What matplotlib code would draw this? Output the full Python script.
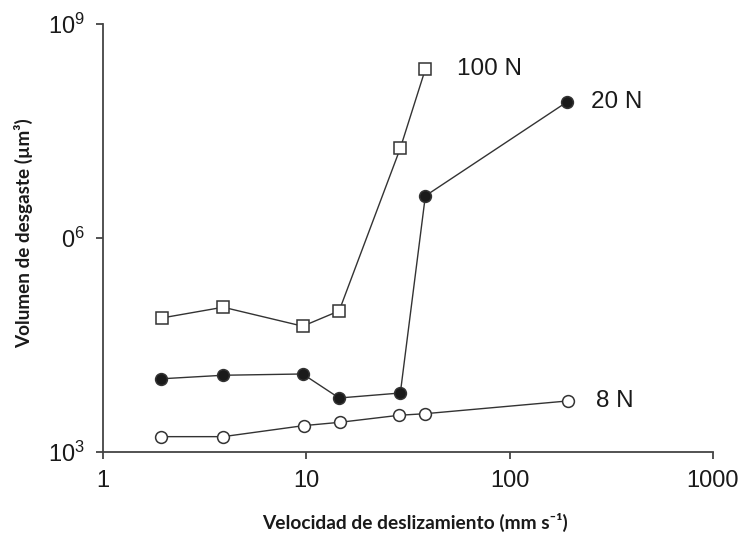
import matplotlib
matplotlib.use("Agg")
import matplotlib.pyplot as plt

plt.rcParams["font.family"] = ["Liberation Sans", "DejaVu Sans"]

# Sliding speed (mm/s) and wear volume (µm³) for each applied load
speed_8n = [1.92, 3.9, 9.7, 14.7, 28.6, 38.4, 193]
wear_8n = [1640, 1640, 2340, 2610, 3270, 3440, 5190]

speed_20n = [1.92, 3.9, 9.6, 14.5, 29, 38.5, 191]
wear_20n = [10600, 11900, 12400, 5710, 6710, 3.89e6, 8.04e7]

speed_100n = [1.95, 3.9, 9.6, 14.5, 29, 38.5]
wear_100n = [75700, 107000, 58000, 95000, 1.82e7, 2.33e8]

load_labels = ["8 N", "20 N", "100 N"]
x_ticks = [1, 10, 100, 1000]
x_tick_labels = ["1", "10", "100", "1000"]
y_ticks = [1e3, 1e6, 1e9]
y_tick_labels = [r"$\mathregular{10^3}$", r"$\mathregular{0^6}$", r"$\mathregular{10^9}$"]

fig = plt.figure(figsize=(7.43, 5.38), dpi=100)
ax = fig.add_axes([0.1386, 0.1599, 0.8210, 0.7955])

line_kw = dict(color="#333333", lw=1.0, markeredgewidth=1.1, markersize=8.5,
               markeredgecolor="#333333", clip_on=False, zorder=3)
ax.plot(speed_8n, wear_8n, marker="o", markerfacecolor="white", **line_kw)
ax.plot(speed_20n, wear_20n, marker="o", markerfacecolor="#1a1a1a", **line_kw)
ax.plot(speed_100n, wear_100n, marker="s", markerfacecolor="white", **line_kw)

series = [(speed_8n, wear_8n, 28), (speed_20n, wear_20n, 24), (speed_100n, wear_100n, 32)]
for (xs, ys, off), lab in zip(series, load_labels):
    ax.annotate(lab, xy=(xs[-1], ys[-1]), xytext=(off, 0), textcoords="offset pixels",
                va="center", ha="left", fontsize=17.5, color="#1a1a1a")

ax.set_xscale("log")
ax.set_yscale("log")
ax.set_xlim(1, 1000)
ax.set_ylim(1e3, 1e9)
ax.set_xticks(x_ticks)
ax.set_xticklabels(x_tick_labels)
ax.set_yticks(y_ticks)
ax.set_yticklabels(y_tick_labels)
ax.minorticks_off()

for side in ("top", "right"):
    ax.spines[side].set_visible(False)
for side in ("left", "bottom"):
    ax.spines[side].set_color("#444444")
    ax.spines[side].set_linewidth(1.3)
ax.tick_params(axis="both", direction="out", length=5, width=1.3, color="#444444",
               labelsize=17, labelcolor="#1a1a1a", pad=8)

label_font = ["Lato", "DejaVu Sans"]
fig.text(0.558, 1 - 522 / 538, "Velocidad de deslizamiento (mm s⁻¹)", ha="center", va="center",
         fontsize=13.8, fontweight="bold", family=label_font, color="#1a1a1a")
fig.text(24 / 743, 1 - 233 / 538, "Volumen de desgaste (µm³)", ha="center", va="center",
         rotation=90, fontsize=13.6, fontweight="bold", family=label_font, color="#1a1a1a")

fig.savefig("out.png", dpi=100)
